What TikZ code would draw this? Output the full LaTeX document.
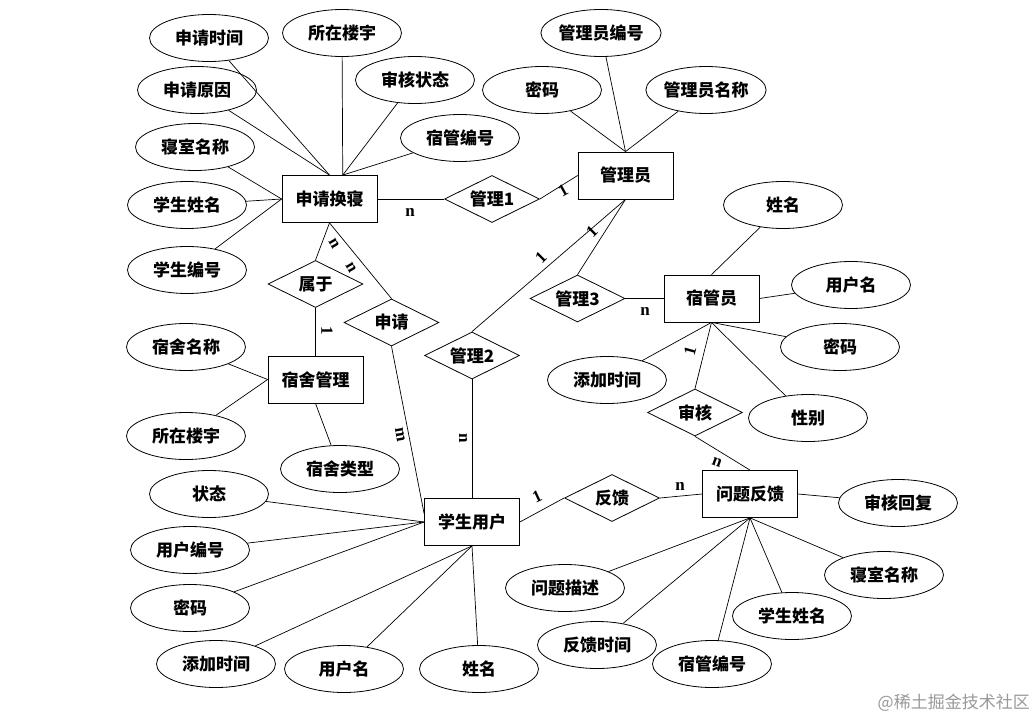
\documentclass[tikz,border=0pt]{standalone}
\usepackage{fontspec}
\setmainfont{Liberation Serif}
\newfontfamily\cjk{Noto Sans CJK SC}
\usetikzlibrary{shapes.geometric}
\tikzset{
  base/.style={draw=black, line width=0.8pt, inner sep=0pt, font=\cjk\bfseries\fontsize{17}{20}\selectfont},
  attr/.style={base, ellipse, minimum width=119pt, minimum height=47pt},
  ent/.style={base, rectangle, minimum width=95pt, minimum height=47pt},
  rel/.style={base, diamond, aspect=2, minimum width=95pt, minimum height=47pt},
  link/.style={line width=0.7pt},
  card/.style={font=\bfseries\fontsize{17}{17}\selectfont, inner sep=0pt},
  wm/.style={font=\cjk\fontsize{17}{20}\selectfont, text=black!40, inner sep=0pt}
}
\begin{document}
\begin{tikzpicture}[x=1pt, y=-1pt]
\useasboundingbox (0,0) rectangle (1036,717);
\fill[white] (0,0) rectangle (1036,717);
% entities
\node[ent] (sq) at (329.5,199) {申请换寝};
\node[ent] (mgr) at (625.5,175.5) {管理员};
\node[ent] (sgy) at (711.5,298.5) {宿管员};
\node[ent] (ssg) at (315.5,379.5) {宿舍管理};
\node[ent] (xs) at (472,522) {学生用户};
\node[ent] (wfk) at (750,494) {问题反馈};
% relations
\node[rel] (r1) at (492,199) {管理1};
\node[rel] (rsy) at (315.5,284) {属于};
\node[rel] (rsq) at (391.5,322.5) {申请};
\node[rel] (r2) at (472,355.5) {管理2};
\node[rel] (r3) at (577.5,298.5) {管理3};
\node[rel] (rsh) at (695,412.5) {审核};
\node[rel] (rfk) at (612,498) {反馈};
% attributes
\node[attr] (a1) at (209,38) {申请时间};
\node[attr] (a2) at (342,33) {所在楼宇};
\node[attr] (a3) at (415,80) {审核状态};
\node[attr] (a4) at (197,90) {申请原因};
\node[attr] (a5) at (460,138) {宿管编号};
\node[attr] (a6) at (195,147) {寝室名称};
\node[attr] (a7) at (187,205) {学生姓名};
\node[attr] (a8) at (187,270) {学生编号};
\node[attr] (b1) at (601,33) {管理员编号};
\node[attr] (b2) at (542,90) {密码};
\node[attr] (b3) at (706,90) {管理员名称};
\node[attr] (c1) at (783,205) {姓名};
\node[attr] (c2) at (851,285) {用户名};
\node[attr] (c3) at (840,347) {密码};
\node[attr] (c4) at (607,380) {添加时间};
\node[attr] (c5) at (808,418) {性别};
\node[attr] (d1) at (186,347) {宿舍名称};
\node[attr] (d2) at (186,436) {所在楼宇};
\node[attr] (d3) at (340,469) {宿舍类型};
\node[attr] (e1) at (209,494) {状态};
\node[attr] (e2) at (190,550) {用户编号};
\node[attr] (e3) at (190,608) {密码};
\node[attr] (e4) at (216,664) {添加时间};
\node[attr] (e5) at (344,669) {用户名};
\node[attr] (e6) at (479,669) {姓名};
\node[attr] (f1) at (898,503) {审核回复};
\node[attr] (f2) at (565,588) {问题描述};
\node[attr] (f3) at (597,645) {反馈时间};
\node[attr] (f4) at (712,664) {宿管编号};
\node[attr] (f5) at (792,616) {学生姓名};
\node[attr] (f6) at (884,575) {寝室名称};
% attribute links
\draw[link] (a1) -- (sq.north);
\draw[link] (a4) -- (sq.north);
\draw[link] (a2) -- (sq.61.5);
\draw[link] (a3) -- (sq.61.5);
\draw[link] (a5) -- (sq.61.5);
\draw[link] (a6) -- (sq.west);
\draw[link] (a7) -- (sq.west);
\draw[link] (a8) -- (sq.west);
\draw[link] (b1) -- (mgr.north);
\draw[link] (b2) -- (mgr.north);
\draw[link] (b3) -- (mgr.north);
\draw[link] (c1) -- (sgy.north);
\draw[link] (c2) -- (sgy.east);
\draw[link] (c3) -- (sgy.south);
\draw[link] (c4) -- (sgy.south);
\draw[link] (c5) -- (sgy.south);
\draw[link] (d1) -- (ssg.west);
\draw[link] (d2) -- (ssg.west);
\draw[link] (d3) -- (ssg.south);
\draw[link] (e1) -- (xs.west);
\draw[link] (e2) -- (xs.west);
\draw[link] (e3) -- (xs.west);
\draw[link] (e4) -- (xs.south);
\draw[link] (e5) -- (xs.south);
\draw[link] (e6) -- (xs.south);
\draw[link] (f1) -- (wfk.east);
\draw[link] (f2) -- (wfk.south);
\draw[link] (f3) -- (wfk.south);
\draw[link] (f4) -- (wfk.south);
\draw[link] (f5) -- (wfk.south);
\draw[link] (f6) -- (wfk.south);
% relation links
\draw[link] (sq.east) -- (r1.west);
\draw[link] (r1.east) -- (mgr.west);
\draw[link] (mgr.south) -- (r3.north);
\draw[link] (mgr.south) -- (r2.north);
\draw[link] (r3.east) -- (sgy.west);
\draw[link] (rsh.north) -- (sgy.south);
\draw[link] (rsh.south) -- (wfk.north);
\draw[link] (sq.south) -- (rsy.north);
\draw[link] (sq.south) -- (rsq.north);
\draw[link] (rsy.south) -- (ssg.north);
\draw[link] (rsq.south) -- (xs.170);
\draw[link] (r2.south) -- (xs.north);
\draw[link] (xs.east) -- (rfk.west);
\draw[link] (rfk.east) -- (wfk.west);
% cardinalities
\node[card] (k1) at (410,212) {n};
\node[card, rotate=29] (k2) at (563,191) {1};
\node[card, rotate=45] (k3) at (592,232) {1};
\node[card, rotate=45] (k4) at (541,258) {1};
\node[card] (k5) at (645,311) {n};
\node[card, rotate=75] (k6) at (690,351) {1};
\node[card, rotate=-20] (k7) at (717,462) {n};
\node[card] (k8) at (680,486) {n};
\node[card, rotate=25] (k9) at (537,497) {1};
\node[card, rotate=-90] (k10) at (463,438) {n};
\node[card, rotate=-80] (k11) at (400,435) {m};
\node[card, rotate=-60] (k12) at (334,244) {n};
\node[card, rotate=-60] (k13) at (351,268) {n};
\node[card, rotate=-90] (k14) at (327,331) {1};
% watermark
\node[wm, anchor=east] (wmk) at (1030,703) {@稀土掘金技术社区};
\end{tikzpicture}
\end{document}
